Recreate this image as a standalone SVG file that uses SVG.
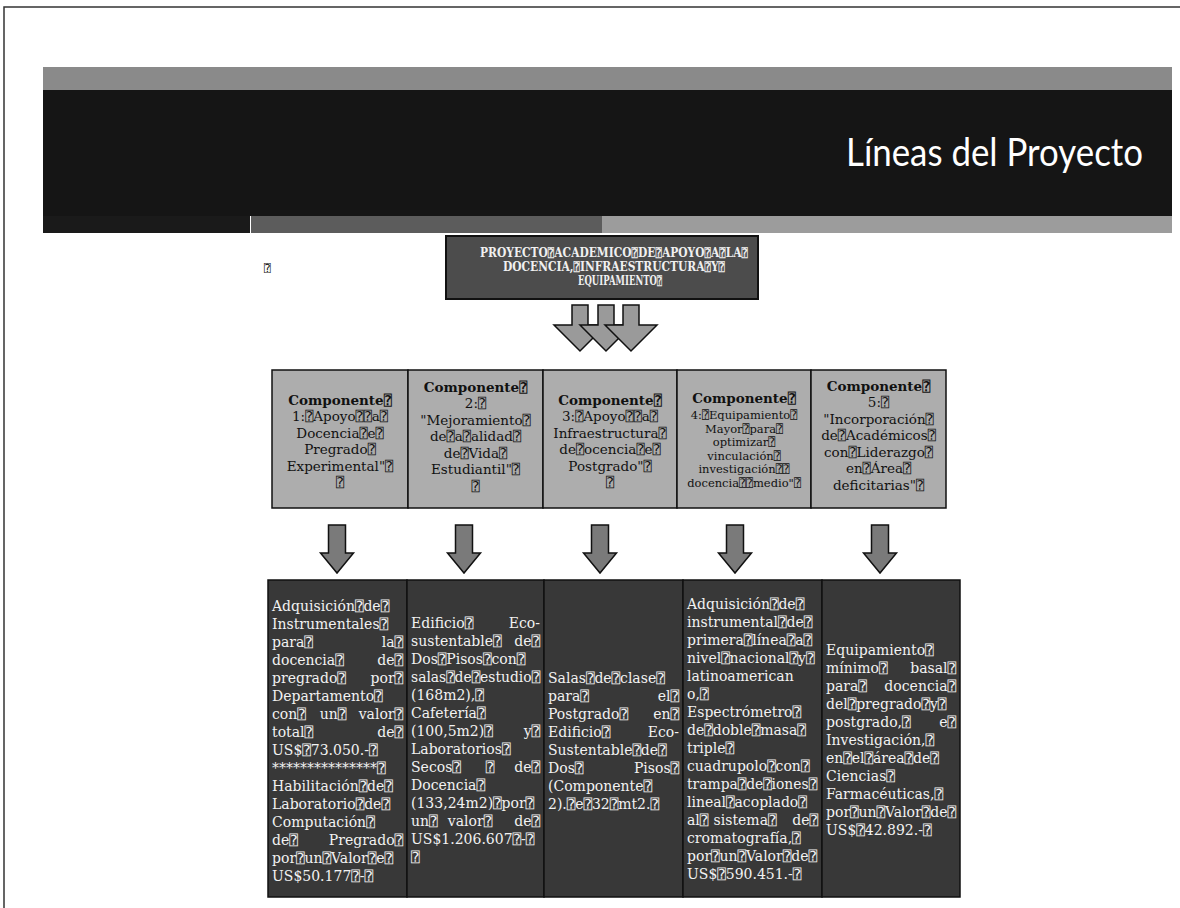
<svg xmlns="http://www.w3.org/2000/svg" width="1180" height="908" viewBox="0 0 1180 908">
<style>
.page{stroke:#333;stroke-width:1.5;fill:none}
.ct{font-family:"DejaVu Serif","DejaVu Sans","DejaVu Sans Mono",serif;font-size:13.5px;font-weight:bold;fill:#111;text-anchor:middle}
.cn{font-family:"DejaVu Serif","DejaVu Sans","DejaVu Sans Mono",serif;font-size:13.5px;fill:#111;text-anchor:middle}
.cm{font-family:"DejaVu Serif","DejaVu Sans","DejaVu Sans Mono",serif;font-size:11.5px;fill:#111;text-anchor:middle}
.bt{font-family:"DejaVu Serif","DejaVu Sans","DejaVu Sans Mono",serif;font-size:14px;fill:#f2f2f2}
.e{text-anchor:end}
.m{text-anchor:middle}
.pt{font-family:"DejaVu Serif","DejaVu Sans","DejaVu Sans Mono",serif;font-size:12px;font-weight:bold;fill:#f0f0f0;text-anchor:middle}
.comp{fill:#adadad;stroke:#111;stroke-width:1.5}
.out{fill:#383838;stroke:#111;stroke-width:1.5}
.arr{fill:#7a7a7a;stroke:#111;stroke-width:1.5}
.arrt{fill:#9a9a9a;stroke:#111;stroke-width:1.5}
.title{font-family:Lato,"Open Sans",sans-serif;font-size:38px;fill:#fff}
</style>
<rect width="1180" height="908" fill="#fff"/>
<path class="page" d="M4,908 V7 H1180"/>
<g id="header">
<rect x="43" y="67" width="1129" height="23" fill="#8a8a8a"/>
<rect x="43" y="90" width="1129" height="126" fill="#151515"/>
<rect x="43" y="216" width="207" height="17" fill="#1a1a1a"/>
<rect x="251" y="216" width="351" height="17" fill="#5c5c5c"/>
<rect x="602" y="216" width="570" height="17" fill="#9c9c9c"/>
<text class="title" x="846" y="166" textLength="297" lengthAdjust="spacingAndGlyphs">Líneas del Proyecto</text>
</g>
<text x="264" y="272" style="font-family:'DejaVu Sans','DejaVu Sans Mono',sans-serif;font-size:11px;fill:#111">⍰</text>
<g id="node-proyecto">
<rect x="446" y="236" width="312" height="63" fill="#4c4c4c" stroke="#111" stroke-width="2"/>
<text class="pt" x="614" y="257" textLength="268" lengthAdjust="spacingAndGlyphs">PROYECTO⍰ACADEMICO⍰DE⍰APOYO⍰A⍰LA⍰</text>
<text class="pt" x="614" y="271" textLength="222" lengthAdjust="spacingAndGlyphs">DOCENCIA,⍰INFRAESTRUCTURA⍰Y⍰</text>
<text class="pt" x="620" y="285" textLength="84" lengthAdjust="spacingAndGlyphs">EQUIPAMIENTO⍰</text>
</g>
<g id="connectors">
<polygon class="arrt" points="572,305 588,305 588,325 606,325 580,351 554,325 572,325"/>
<polygon class="arrt" points="598,305 614,305 614,325 632,325 606,351 580,325 598,325"/>
<polygon class="arrt" points="623,305 639,305 639,325 657,325 631,351 605,325 623,325"/>
<polygon class="arr" points="328.5,525 345.5,525 345.5,553 353.5,553 337,573 320.5,553 328.5,553"/>
<polygon class="arr" points="455.5,525 472.5,525 472.5,553 480.5,553 464,573 447.5,553 455.5,553"/>
<polygon class="arr" points="591.5,525 608.5,525 608.5,553 616.5,553 600,573 583.5,553 591.5,553"/>
<polygon class="arr" points="726.5,525 743.5,525 743.5,553 751.5,553 735,573 718.5,553 726.5,553"/>
<polygon class="arr" points="871.5,525 888.5,525 888.5,553 896.5,553 880,573 863.5,553 871.5,553"/>
</g>
<g id="comp1">
<rect class="comp" x="272" y="370" width="136" height="138"/>
<text class="ct" x="340" y="404.5">Componente⍰</text>
<text class="cn" x="340" y="421">1:⍰Apoyo⍰⍰a⍰</text>
<text class="cn" x="340" y="437.5">Docencia⍰e⍰</text>
<text class="cn" x="340" y="454">Pregrado⍰</text>
<text class="cn" x="340" y="470.5">Experimental"⍰</text>
<text class="cn" x="340" y="487">⍰</text>
</g>
<g id="comp2">
<rect class="comp" x="408" y="370" width="135" height="138"/>
<text class="ct" x="475.5" y="391.5">Componente⍰</text>
<text class="cn" x="475.5" y="408">2:⍰</text>
<text class="cn" x="475.5" y="424.5">"Mejoramiento⍰</text>
<text class="cn" x="475.5" y="441">de⍰a⍰alidad⍰</text>
<text class="cn" x="475.5" y="457.5">de⍰Vida⍰</text>
<text class="cn" x="475.5" y="474">Estudiantil"⍰</text>
<text class="cn" x="475.5" y="490.5">⍰</text>
</g>
<g id="comp3">
<rect class="comp" x="543" y="370" width="134" height="138"/>
<text class="ct" x="610" y="404.5">Componente⍰</text>
<text class="cn" x="610" y="421">3:⍰Apoyo⍰⍰a⍰</text>
<text class="cn" x="610" y="437.5">Infraestructura⍰</text>
<text class="cn" x="610" y="454">de⍰ocencia⍰e⍰</text>
<text class="cn" x="610" y="470.5">Postgrado"⍰</text>
<text class="cn" x="610" y="487">⍰</text>
</g>
<g id="comp4">
<rect class="comp" x="677" y="370" width="134" height="138"/>
<text class="ct" x="744" y="402.5">Componente⍰</text>
<text class="cm" x="744" y="419">4:⍰Equipamiento⍰</text>
<text class="cm" x="744" y="432.5">Mayor⍰para⍰</text>
<text class="cm" x="744" y="446">optimizar⍰</text>
<text class="cm" x="744" y="459.5">vinculación⍰</text>
<text class="cm" x="744" y="473">investigación⍰⍰</text>
<text class="cm" x="744" y="486.5">docencia⍰⍰medio"⍰</text>
</g>
<g id="comp5">
<rect class="comp" x="811" y="370" width="135" height="138"/>
<text class="ct" x="878.5" y="390.5">Componente⍰</text>
<text class="cn" x="878.5" y="407">5:⍰</text>
<text class="cn" x="878.5" y="423.5">"Incorporación⍰</text>
<text class="cn" x="878.5" y="440">de⍰Académicos⍰</text>
<text class="cn" x="878.5" y="456.5">con⍰Liderazgo⍰</text>
<text class="cn" x="878.5" y="473">en⍰Área⍰</text>
<text class="cn" x="878.5" y="489.5">deficitarias"⍰</text>
</g>
<g id="out1">
<rect class="out" x="268" y="580" width="139" height="317"/>
<text class="bt" x="272" y="611">Adquisición⍰de⍰</text>
<text class="bt" x="272" y="629">Instrumentales⍰</text>
<text class="bt" y="647"><tspan x="272">para⍰</tspan><tspan class="e" x="403">la⍰</tspan></text>
<text class="bt" y="665"><tspan x="272">docencia⍰</tspan><tspan class="e" x="403">de⍰</tspan></text>
<text class="bt" y="683"><tspan x="272">pregrado⍰</tspan><tspan class="e" x="403">por⍰</tspan></text>
<text class="bt" x="272" y="701">Departamento⍰</text>
<text class="bt" y="719"><tspan x="272">con⍰</tspan><tspan class="m" x="333">un⍰</tspan><tspan class="e" x="403">valor⍰</tspan></text>
<text class="bt" y="737"><tspan x="272">total⍰</tspan><tspan class="e" x="403">de⍰</tspan></text>
<text class="bt" x="272" y="755">US$⍰73.050.-⍰</text>
<text class="bt" x="272" y="773">***************⍰</text>
<text class="bt" x="272" y="791">Habilitación⍰de⍰</text>
<text class="bt" x="272" y="809">Laboratorio⍰de⍰</text>
<text class="bt" x="272" y="827">Computación⍰</text>
<text class="bt" y="845"><tspan x="272">de⍰</tspan><tspan class="e" x="403">Pregrado⍰</tspan></text>
<text class="bt" x="272" y="863">por⍰un⍰Valor⍰e⍰</text>
<text class="bt" x="272" y="881">US$50.177⍰-⍰</text>
</g>
<g id="out2">
<rect class="out" x="407" y="580" width="137" height="317"/>
<text class="bt" y="628"><tspan x="411">Edificio⍰</tspan><tspan class="e" x="540">Eco-</tspan></text>
<text class="bt" y="646"><tspan x="411">sustentable⍰</tspan><tspan class="e" x="540">de⍰</tspan></text>
<text class="bt" x="411" y="664">Dos⍰Pisos⍰con⍰</text>
<text class="bt" x="411" y="682" textLength="129" lengthAdjust="spacingAndGlyphs">salas⍰de⍰estudio⍰</text>
<text class="bt" x="411" y="700">(168m2),⍰</text>
<text class="bt" x="411" y="718">Cafetería⍰</text>
<text class="bt" y="736"><tspan x="411">(100,5m2)⍰</tspan><tspan class="e" x="540">y⍰</tspan></text>
<text class="bt" x="411" y="754">Laboratorios⍰</text>
<text class="bt" y="772"><tspan x="411">Secos⍰</tspan><tspan class="m" x="490">⍰</tspan><tspan class="e" x="540">de⍰</tspan></text>
<text class="bt" x="411" y="790">Docencia⍰</text>
<text class="bt" x="411" y="808">(133,24m2)⍰por⍰</text>
<text class="bt" y="826"><tspan x="411">un⍰</tspan><tspan class="m" x="470">valor⍰</tspan><tspan class="e" x="540">de⍰</tspan></text>
<text class="bt" x="411" y="844">US$1.206.607⍰-⍰</text>
<text class="bt" x="411" y="862">⍰</text>
</g>
<g id="out3">
<rect class="out" x="544" y="580" width="139" height="317"/>
<text class="bt" x="548" y="683">Salas⍰de⍰clase⍰</text>
<text class="bt" y="701"><tspan x="548">para⍰</tspan><tspan class="e" x="679">el⍰</tspan></text>
<text class="bt" y="719"><tspan x="548">Postgrado⍰</tspan><tspan class="e" x="679">en⍰</tspan></text>
<text class="bt" y="737"><tspan x="548">Edificio⍰</tspan><tspan class="e" x="679">Eco-</tspan></text>
<text class="bt" x="548" y="755">Sustentable⍰de⍰</text>
<text class="bt" y="773"><tspan x="548">Dos⍰</tspan><tspan class="e" x="679">Pisos⍰</tspan></text>
<text class="bt" x="548" y="791">(Componente⍰</text>
<text class="bt" x="548" y="809">2).⍰e⍰32⍰mt2.⍰</text>
</g>
<g id="out4">
<rect class="out" x="683" y="580" width="139" height="317"/>
<text class="bt" x="687" y="609">Adquisición⍰de⍰</text>
<text class="bt" x="687" y="627">instrumental⍰de⍰</text>
<text class="bt" x="687" y="645">primera⍰línea⍰a⍰</text>
<text class="bt" x="687" y="663">nivel⍰nacional⍰y⍰</text>
<text class="bt" x="687" y="681">latinoamerican</text>
<text class="bt" x="687" y="699">o,⍰</text>
<text class="bt" x="687" y="717">Espectrómetro⍰</text>
<text class="bt" x="687" y="735">de⍰doble⍰masa⍰</text>
<text class="bt" x="687" y="753">triple⍰</text>
<text class="bt" x="687" y="771">cuadrupolo⍰con⍰</text>
<text class="bt" x="687" y="789" textLength="130" lengthAdjust="spacingAndGlyphs">trampa⍰de⍰iones⍰</text>
<text class="bt" x="687" y="807">lineal⍰acoplado⍰</text>
<text class="bt" y="825"><tspan x="687">al⍰</tspan><tspan class="m" x="745">sistema⍰</tspan><tspan class="e" x="818">de⍰</tspan></text>
<text class="bt" x="687" y="843">cromatografía,⍰</text>
<text class="bt" x="687" y="861">por⍰un⍰Valor⍰de⍰</text>
<text class="bt" x="687" y="879">US$⍰590.451.-⍰</text>
</g>
<g id="out5">
<rect class="out" x="822" y="580" width="138" height="317"/>
<text class="bt" x="826" y="655">Equipamiento⍰</text>
<text class="bt" y="673"><tspan x="826">mínimo⍰</tspan><tspan class="e" x="956">basal⍰</tspan></text>
<text class="bt" y="691"><tspan x="826">para⍰</tspan><tspan class="e" x="956">docencia⍰</tspan></text>
<text class="bt" x="826" y="709">del⍰pregrado⍰y⍰</text>
<text class="bt" y="727"><tspan x="826">postgrado,⍰</tspan><tspan class="e" x="956">e⍰</tspan></text>
<text class="bt" x="826" y="745">Investigación,⍰</text>
<text class="bt" x="826" y="763">en⍰el⍰área⍰de⍰</text>
<text class="bt" x="826" y="781">Ciencias⍰</text>
<text class="bt" x="826" y="799">Farmacéuticas,⍰</text>
<text class="bt" x="826" y="817">por⍰un⍰Valor⍰de⍰</text>
<text class="bt" x="826" y="835">US$⍰42.892.-⍰</text>
</g>
</svg>
